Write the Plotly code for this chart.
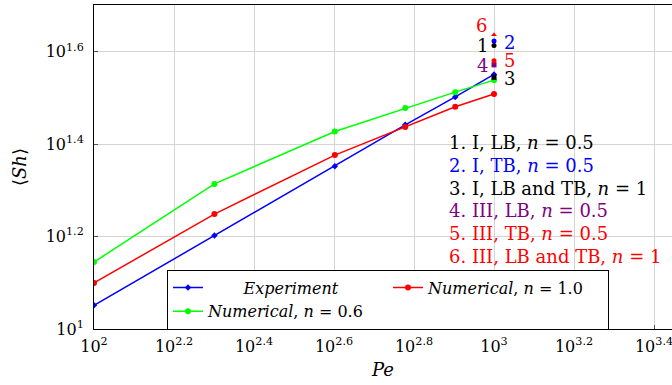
import math
import plotly.graph_objects as go

# Péclet numbers and mean Sherwood numbers
pe = [100, 200, 400, 600, 800, 1000]
sh_experiment = [11.25, 15.94, 22.5, 27.65, 31.78, 35.55]
sh_num_n10 = [12.58, 17.73, 23.78, 27.35, 30.25, 32.23]
sh_num_n06 = [13.96, 20.6, 26.75, 30.06, 32.54, 34.55]

# Single-case results at Pe = 1000
case_ids = ["1", "2", "3", "4", "5", "6"]
case_pe = [1000, 1000, 1000, 1000, 1000, 1000]
case_sh = [41.07, 42.0, 35.03, 37.28, 38.03, 43.3]
case_colors = ["#000000", "#0000ff", "#000000", "#800080", "#ff0000", "#ff0000"]
case_symbols = ["circle", "circle", "square", "square", "circle", "triangle-up"]
case_text = [
    "1. I, LB, <i>n</i> = 0.5",
    "2. I, TB, <i>n</i> = 0.5",
    "3. I, LB and TB, <i>n</i> = 1",
    "4. III, LB, <i>n</i> = 0.5",
    "5. III, TB, <i>n</i> = 0.5",
    "6. III, LB and TB, <i>n</i> = 1",
]
# label offsets (px) for the numbers beside each case point
case_label_shift = [(-12, 0), (15, -2), (15, -1), (-12, -1), (15, 0), (-13, 9)]

x_ticks = [2.0, 2.2, 2.4, 2.6, 2.8, 3.0, 3.2, 3.4]
y_ticks = [1.0, 1.2, 1.4, 1.6]

FONT = "'DejaVu Serif', serif"

fig = go.Figure()

fig.add_trace(go.Scatter(
    x=pe, y=sh_experiment, mode="lines+markers",
    name="&nbsp;&nbsp;&nbsp;&nbsp;&nbsp;&nbsp;&nbsp;<i>Experiment</i>",
    line=dict(color="#0000ff", width=1.5),
    marker=dict(symbol="diamond", size=5, color="#0000ff"),
))
fig.add_trace(go.Scatter(
    x=pe, y=sh_num_n10, mode="lines+markers", name="<i>Numerical</i>, <i>n</i> = 1.0",
    line=dict(color="#ff0000", width=1.5),
    marker=dict(symbol="circle", size=6, color="#ff0000"),
))
fig.add_trace(go.Scatter(
    x=pe, y=sh_num_n06, mode="lines+markers", name="<i>Numerical</i>, <i>n</i> = 0.6",
    line=dict(color="#00ff00", width=1.5),
    marker=dict(symbol="circle", size=6, color="#00ff00"),
))
fig.add_trace(go.Scatter(
    x=case_pe, y=case_sh, mode="markers", showlegend=False,
    marker=dict(symbol=case_symbols, size=5, color=case_colors),
))

annotations = []
for cid, px, sh, col, (dx, dy) in zip(case_ids, case_pe, case_sh, case_colors, case_label_shift):
    annotations.append(dict(
        x=math.log10(px), y=math.log10(sh), xref="x", yref="y",
        text=cid, showarrow=False, xshift=dx, yshift=dy,
        font=dict(family=FONT, size=18, color=col),
    ))

# case descriptions, one line each
desc_x = 2.0 + (447 - 94) / 400
desc_rows_px = [143, 166, 189, 211, 234, 257]
for txt, col, ypx in zip(case_text, case_colors, desc_rows_px):
    annotations.append(dict(
        x=desc_x, y=1.0 + (329.5 - ypx) / 463, xref="x", yref="y",
        text=txt, showarrow=False, xanchor="left", yanchor="middle",
        font=dict(family=FONT, size=18, color=col),
    ))

fig.update_layout(
    width=672, height=385,
    margin=dict(l=94, r=0, t=5, b=56),
    paper_bgcolor="white", plot_bgcolor="white",
    font=dict(family=FONT, size=16, color="black"),
    annotations=annotations,
    legend=dict(
        x=(167 - 94) / 578, y=(329.5 - 270) / 324, xanchor="left", yanchor="top",
        orientation="h", entrywidth=175, entrywidthmode="pixels",
        bgcolor="white", bordercolor="black", borderwidth=1,
        font=dict(family=FONT, size=16),
        tracegroupgap=0,
    ),
    xaxis=dict(
        type="log", range=[2.0, 2.0 + 578 / 400],
        tickvals=[10 ** v for v in x_ticks],
        ticktext=["10<sup>%g</sup>" % v for v in x_ticks],
        ticklabeloverflow="allow", ticklabelstandoff=3,
        showgrid=True, gridcolor="#d4d4d4", gridwidth=1,
        showline=True, linecolor="black", linewidth=1, mirror=True,
        ticks="inside", ticklen=4, tickcolor="#555555",
        zeroline=False, tickfont=dict(family=FONT, size=16),
        title=dict(text="<i>Pe</i>", font=dict(family=FONT, size=18), standoff=8),
    ),
    yaxis=dict(
        type="log", range=[1.0, 1.701],
        tickvals=[10 ** v for v in y_ticks],
        ticktext=["10<sup>%g</sup>" % v for v in y_ticks],
        ticklabelstandoff=6,
        showgrid=True, gridcolor="#d4d4d4", gridwidth=1,
        showline=True, linecolor="black", linewidth=1, mirror=False,
        ticks="inside", ticklen=4, tickcolor="#555555",
        zeroline=False, tickfont=dict(family=FONT, size=16),
        title=dict(text="⟨<i>Sh</i>⟩", font=dict(family=FONT, size=18), standoff=14),
    ),
)

fig.write_html("out.html")
